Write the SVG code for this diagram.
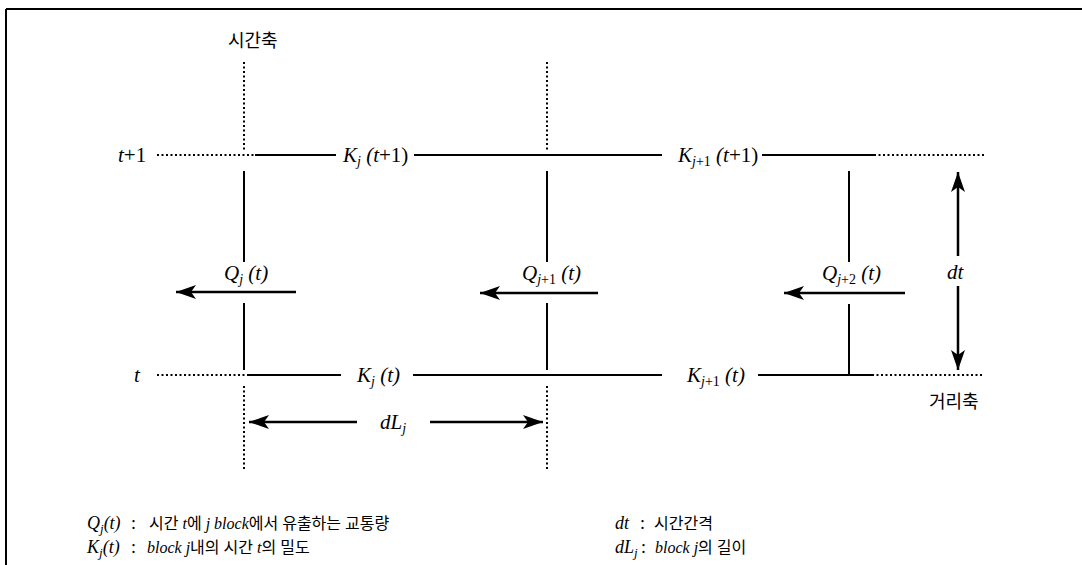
<svg xmlns="http://www.w3.org/2000/svg" width="1082" height="565" viewBox="0 0 1082 565">
<defs>
<marker id="ah" markerUnits="userSpaceOnUse" markerWidth="22" markerHeight="14" refX="20" refY="7" orient="auto">
<path d="M0,0 L20,7 L0,14 L5,7 Z" fill="#000"/>
</marker>
<style>
.solid{stroke:#000;stroke-width:2;fill:none}
.dot{stroke:#000;stroke-width:2;stroke-dasharray:2 2.5;fill:none}
.arr{stroke:#000;stroke-width:2.5;fill:none;marker-end:url(#ah)}
.m{font-family:"Liberation Serif",serif;font-size:21px;fill:#000}
.i{font-style:italic}
.s{font-size:14px}
.k{font-family:"Noto Sans CJK KR",sans-serif;font-size:18px;fill:#000}
.lg{font-family:"Liberation Serif","Noto Sans CJK KR",serif;font-size:18px;fill:#000}
.lb{font-size:16px}
</style>
</defs>
<rect width="1082" height="565" fill="#fff"/>
<g id="frame">
<line x1="6" y1="9" x2="1082" y2="9" stroke="#000" stroke-width="2"/>
<line x1="6" y1="9" x2="6" y2="565" stroke="#000" stroke-width="2"/>
</g>
<g id="connectors">
<line class="dot" x1="157" y1="155" x2="255" y2="155"/>
<line class="solid" x1="255" y1="155" x2="336" y2="155"/>
<line class="solid" x1="414" y1="155" x2="662" y2="155"/>
<line class="solid" x1="762" y1="155" x2="874" y2="155"/>
<line class="dot" x1="874" y1="155" x2="985" y2="155"/>
<line class="dot" x1="157" y1="375" x2="248" y2="375"/>
<line class="solid" x1="248" y1="375" x2="341" y2="375"/>
<line class="solid" x1="413" y1="375" x2="662" y2="375"/>
<line class="solid" x1="758" y1="375" x2="872" y2="375"/>
<line class="dot" x1="872" y1="375" x2="982" y2="375"/>
<line class="dot" x1="244" y1="62" x2="244" y2="150"/>
<line class="solid" x1="244" y1="171" x2="244" y2="262"/>
<line class="solid" x1="244" y1="303" x2="244" y2="370"/>
<line class="dot" x1="244" y1="386" x2="244" y2="470"/>
<line class="dot" x1="547" y1="62" x2="547" y2="150"/>
<line class="solid" x1="547" y1="171" x2="547" y2="262"/>
<line class="solid" x1="547" y1="303" x2="547" y2="370"/>
<line class="dot" x1="547" y1="386" x2="547" y2="470"/>
<line class="solid" x1="849" y1="171" x2="849" y2="262"/>
<line class="solid" x1="849" y1="304" x2="849" y2="375"/>
<line class="arr" x1="296" y1="292" x2="176" y2="292"/>
<line class="arr" x1="598" y1="293" x2="480" y2="293"/>
<line class="arr" x1="905" y1="293" x2="784" y2="293"/>
<line class="arr" x1="958" y1="256" x2="958" y2="172"/>
<line class="arr" x1="958" y1="286" x2="958" y2="370"/>
<line class="arr" x1="357" y1="422" x2="249" y2="422"/>
<line class="arr" x1="430" y1="422" x2="543" y2="422"/>
</g>
<g id="axis-time"><text class="k" x="228" y="47">시간축</text></g>
<g id="axis-dist"><text class="k" x="929" y="408">거리축</text></g>
<g id="label-t1"><text class="m" x="118" y="162"><tspan class="i">t</tspan>+1</text></g>
<g id="label-t"><text class="m i" x="134" y="382">t</text></g>
<g id="label-Kj-t1"><text class="m" x="343" y="162"><tspan class="i">K</tspan><tspan class="i s" dy="4">j</tspan><tspan dy="-4" class="i"> (t</tspan>+1)</text></g>
<g id="label-Kj1-t1"><text class="m" x="678" y="162"><tspan class="i">K</tspan><tspan class="s" dy="4"><tspan class="i">j</tspan>+1</tspan><tspan dy="-4" class="i"> (t</tspan>+1)</text></g>
<g id="label-Kj-t"><text class="m" x="357" y="382"><tspan class="i">K</tspan><tspan class="i s" dy="4">j</tspan><tspan dy="-4" class="i"> (t)</tspan></text></g>
<g id="label-Kj1-t"><text class="m" x="687" y="382"><tspan class="i">K</tspan><tspan class="s" dy="4"><tspan class="i">j</tspan>+1</tspan><tspan dy="-4" class="i"> (t)</tspan></text></g>
<g id="label-Qj"><text class="m" x="224" y="280"><tspan class="i">Q</tspan><tspan class="i s" dy="4">j</tspan><tspan dy="-4" class="i"> (t)</tspan></text></g>
<g id="label-Qj1"><text class="m" x="522" y="280"><tspan class="i">Q</tspan><tspan class="s" dy="4"><tspan class="i">j</tspan>+1</tspan><tspan dy="-4" class="i"> (t)</tspan></text></g>
<g id="label-Qj2"><text class="m" x="822" y="280"><tspan class="i">Q</tspan><tspan class="s" dy="4"><tspan class="i">j</tspan>+2</tspan><tspan dy="-4" class="i"> (t)</tspan></text></g>
<g id="label-dt"><text class="m i" x="947" y="279">dt</text></g>
<g id="label-dL"><text class="m" x="380" y="429"><tspan class="i">dL</tspan><tspan class="i s" dy="4">j</tspan></text></g>
<g id="legend">
<text class="lg" x="87" y="529"><tspan font-style="italic">Q</tspan><tspan font-style="italic" font-size="13" dy="4">j</tspan><tspan font-style="italic" dy="-4">(t)</tspan><tspan x="131">:</tspan><tspan class="lb" x="149">시간 <tspan font-style="italic">t</tspan>에 <tspan font-style="italic">j block</tspan>에서 유출하는 교통량</tspan></text>
<text class="lg" x="87" y="553"><tspan font-style="italic">K</tspan><tspan font-style="italic" font-size="13" dy="4">j</tspan><tspan font-style="italic" dy="-4">(t)</tspan><tspan x="131">:</tspan><tspan class="lb" x="147"><tspan font-style="italic">block j</tspan>내의 시간 <tspan font-style="italic">t</tspan>의 밀도</tspan></text>
<text class="lg" x="615" y="529"><tspan font-style="italic">dt</tspan><tspan x="640">:</tspan><tspan class="lb" x="654">시간간격</tspan></text>
<text class="lg" x="615" y="553"><tspan font-style="italic">dL</tspan><tspan font-style="italic" font-size="13" dy="4">j</tspan><tspan dy="-4" x="641">:</tspan><tspan class="lb" x="655"><tspan font-style="italic">block j</tspan>의 길이</tspan></text>
</g>
</svg>
